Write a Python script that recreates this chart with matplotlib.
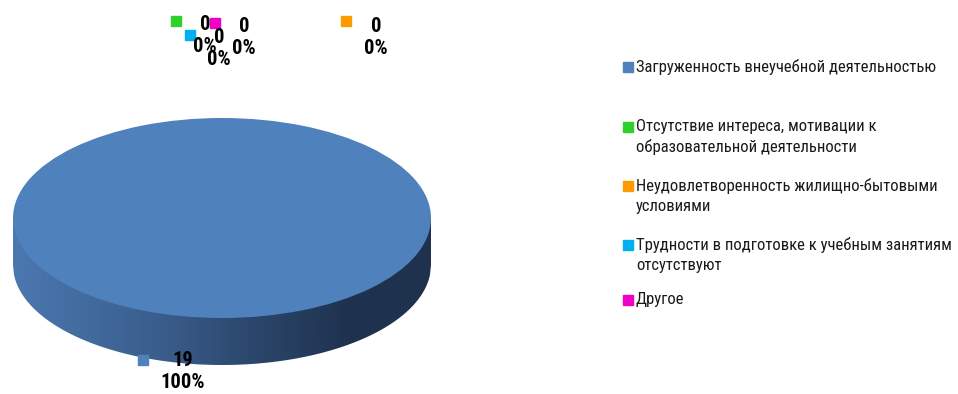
import numpy as np
import matplotlib
matplotlib.use("Agg")
import matplotlib.pyplot as plt
from matplotlib import font_manager
from matplotlib.path import Path
from matplotlib.patches import PathPatch
from matplotlib.colors import LinearSegmentedColormap

# Reasons and number of answers
categories = [
    "Загруженность внеучебной деятельностью",
    "Отсутствие интереса, мотивации к\nобразовательной деятельности",
    "Неудовлетворенность жилищно-бытовыми\nусловиями",
    "Трудности в подготовке к учебным занятиям\nотсутствуют",
    "Другое",
]
values = [19, 0, 0, 0, 0]
colors = ["#4F81BD", "#2ED12A", "#FF9900", "#00B0F0", "#EE00C8"]

# Prefer a narrow sans face; otherwise shrink the regular one a little
installed = {f.name for f in font_manager.fontManager.ttflist}
narrow = [n for n in ("Liberation Sans Narrow", "Arial Narrow", "Roboto Condensed",
                      "DejaVu Sans Condensed", "Open Sans Condensed") if n in installed]
if narrow:
    FONT = [narrow[0], "Liberation Sans", "DejaVu Sans"]
    scale = 1.0
else:
    FONT = ["Liberation Sans", "DejaVu Sans"]
    scale = 0.86
plt.rcParams["font.family"] = FONT

W, H = 958, 394
fig = plt.figure(figsize=(W / 100, H / 100), dpi=100)

# Overlay axes in pixel coordinates for labels and legend
ov = fig.add_axes([0, 0, 1, 1])
ov.set_xlim(0, W)
ov.set_ylim(H, 0)
ov.axis("off")
ov.set_zorder(3)
ov.patch.set_alpha(0)

# Pie axes: top face is the unit circle squashed into an ellipse,
# the side wall hangs below it with a depth of `depth` units.
left, right, top, face_bottom = 13, 431, 118, 318
depth = 0.47
ry_px = (face_bottom - top) / 2
bottom = face_bottom + depth * ry_px
pax = fig.add_axes([left / W, 1 - bottom / H, (right - left) / W, (bottom - top) / H])
pax.axis("off")

# Side wall with horizontal shading
xs = np.linspace(-1, 1, 400)
lower = -np.sqrt(np.clip(1 - xs ** 2, 0, None)) - depth
vx = np.r_[xs, 1, -1, -1]
vy = np.r_[lower, 0, 0, lower[0]]
verts = np.column_stack([vx, vy])
codes = [Path.MOVETO] + [Path.LINETO] * (len(verts) - 2) + [Path.CLOSEPOLY]
side = PathPatch(Path(verts, codes), facecolor="none", edgecolor="none")
pax.add_patch(side)
cmap = LinearSegmentedColormap.from_list(
    "wall",
    [(0.0, "#4B78B0"), (0.35, "#3A5E8C"), (0.6, "#2A4468"), (0.8, "#1F3350"), (1.0, "#1E314D")],
)
grad = np.linspace(0, 1, 512)[None, :]
img = pax.imshow(grad, cmap=cmap, extent=[-1, 1, -1 - depth, 0], aspect="auto",
                 origin="lower", zorder=1)
img.set_clip_path(side)

# Top face
pax.pie(values, colors=colors, startangle=90, counterclock=False, radius=1,
        wedgeprops=dict(linewidth=0), normalize=True)
for w in pax.patches:
    if w is not side:
        w.set_zorder(2)
pax.set_aspect("auto")
pax.set_xlim(-1, 1)
pax.set_ylim(-1 - depth, 1)

# Data labels: key square, value and share
total = sum(values)
label_sq = [(143, 360), (176, 21), (346, 21), (190, 35), (215, 23)]
label_txt = [(183, 372), (205, 35), (376, 37), (219, 48), (244, 37)]
order = [1, 3, 4, 2, 0]
for i in order:
    sx, sy = label_sq[i]
    ov.plot(sx, sy, marker="s", markersize=7.8, color=colors[i], linestyle="none")
    tx, ty = label_txt[i]
    pct = values[i] / total * 100
    ov.text(tx, ty, f"{values[i]}\n{pct:.0f}%", ha="center", va="center",
            fontsize=14.8 * scale, fontweight="bold", color="black",
            linespacing=1.2 / scale if scale < 1 else 1.2)

# Legend
leg_y = [67, 127, 186, 245, 300]
for name, col, y in zip(categories, colors, leg_y):
    ov.plot(628, y, marker="s", markersize=7.2, color=col, linestyle="none")
    ov.text(636, y - 8, name, ha="left", va="top", fontsize=12.0 * scale,
            color="#1A1A1A", linespacing=1.38 / scale if scale < 1 else 1.38)

fig.savefig("out.png", dpi=100)
